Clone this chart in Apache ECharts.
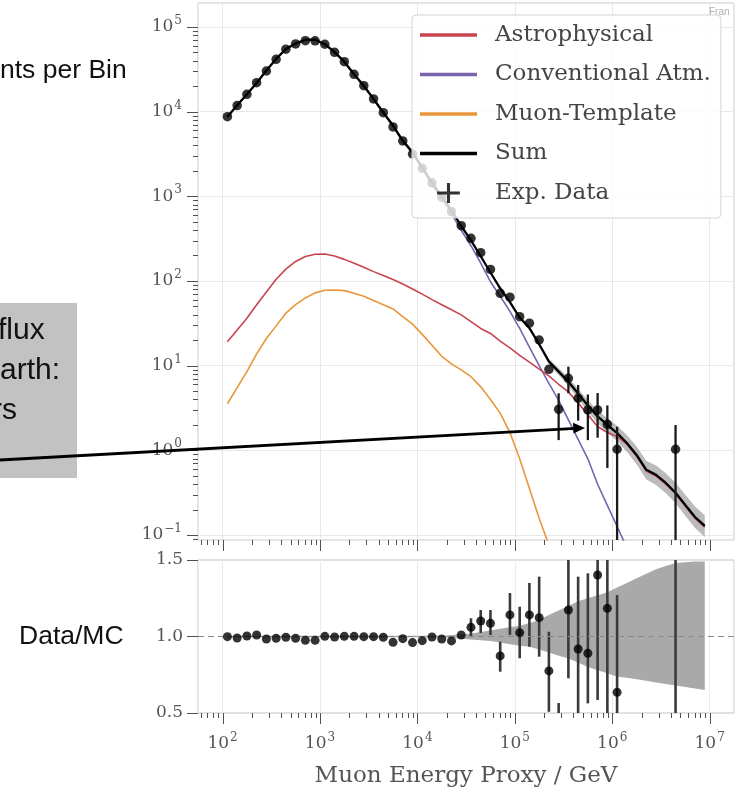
<!DOCTYPE html>
<html>
<head>
<meta charset="utf-8">
<script src="https://cdn.jsdelivr.net/npm/echarts@6/dist/echarts.min.js"></script>
<style>
html,body{margin:0;padding:0;background:#ffffff;}
#chart{width:740px;height:801px;}
</style>
</head>
<body>
<div id="chart"></div>
<script>
// ---------------- data ----------------
// bin centres, log10(E / GeV)
const binLog10E = [2.05,2.15,2.25,2.35,2.45,2.55,2.65,2.75,2.85,2.95,
  3.05,3.15,3.25,3.35,3.45,3.55,3.65,3.75,3.85,3.95,
  4.05,4.15,4.25,4.35,4.45,4.55,4.65,4.75,4.85,4.95,
  5.05,5.15,5.25,5.35,5.45,5.55,5.65,5.75,5.85,5.95,
  6.05,6.15,6.25,6.35,6.45,6.55,6.65,6.75,6.85,6.95];

const expData = [8730,11780,16030,21980,30200,41500,54580,62950,68870,68700,
  62520,50230,38900,27610,20230,14130,9730,6590,4510,3160,
  2140,1445,977,661,450,319,216,137,71.6,64.3,
  37.9,31.7,20.1,9.06,3.05,7.10,4.12,3.00,3.00,2.03,
  1.03,null,null,null,null,null,1.03,null,null,null];
const expErrLo = [null,null,null,null,null,null,null,null,null,null,
  null,null,null,null,null,null,null,null,null,null,
  null,null,null,null,null,null,null,null,null,null,
  null,null,null,null,1.32,4.72,2.24,1.32,1.41,0.62,
  0,null,null,null,null,null,0,null,null,null];
const expErrHi = [null,null,null,null,null,null,null,null,null,null,
  null,null,null,null,null,null,null,null,null,null,
  null,null,null,null,null,null,null,null,null,null,
  null,null,null,null,4.72,9.73,5.92,4.57,4.75,3.39,
  1.90,null,null,null,null,null,1.99,null,null,null];

const sumMC = [8730,11890,16000,21780,30690,41980,54830,63680,70630,70630,
  62520,50350,38900,27610,20230,14130,9770,6850,4560,3310,
  2200,1445,995,681,446,301,196,126,82.0,56.4,
  37.0,27.8,17.9,11.2,8.51,6.46,4.68,3.39,2.51,2.00,
  1.60,1.22,0.881,0.589,0.513,0.412,0.316,0.226,0.163,0.128];
const sumBandLo = [0.99,0.99,0.99,0.99,0.99,0.99,0.99,0.99,0.99,0.99,
  0.99,0.99,0.99,0.99,0.99,0.99,0.99,0.99,0.99,0.99,
  0.99,0.99,0.99,0.99,0.99,0.99,0.99,0.99,0.99,0.99,
  0.97,0.96,0.95,0.93,0.91,0.89,0.87,0.85,0.83,0.81,
  0.80,0.79,0.78,0.77,0.76,0.755,0.75,0.745,0.74,0.74];
const sumBandHi = [1.01,1.01,1.01,1.01,1.01,1.01,1.01,1.01,1.01,1.01,
  1.01,1.01,1.01,1.01,1.01,1.01,1.01,1.01,1.01,1.01,
  1.01,1.01,1.01,1.01,1.01,1.01,1.01,1.01,1.01,1.01,
  1.03,1.04,1.06,1.08,1.10,1.12,1.14,1.16,1.18,1.20,
  1.22,1.24,1.26,1.28,1.29,1.30,1.31,1.32,1.33,1.34];

const astrophysical = [19.1,26.3,36.3,52.5,74.1,105,138,170,195,207,
  208,197,180,162,145,129,116,104,92.3,80.4,
  70.0,60.3,52.5,45.7,39.8,33.1,27.5,24.0,19.5,16.2,
  13.2,11.0,9.12,7.59,6.03,4.90,3.63,2.63,1.91,1.62,
  1.46,1.18,0.855,0.571,0.498,0.400,0.307,0.219,0.158,0.124];

const conventionalAtm = [8710,11860,15960,21710,30600,41850,54650,63460,70370,70350,
  62230,50080,38640,27380,20020,13940,9600,6700,4430,3200,
  2110,1370,930,624,397,261,163,98.0,66.0,43.7,
  27.5,16.6,10.0,6.17,3.89,2.29,1.35,0.794,0.398,0.224,
  0.126,0.0708,null,null,null,null,null,null,null,null];

const muonTemplate = [3.55,5.50,8.51,13.8,20.9,29.5,41.7,52.5,63.1,72.4,
  77.6,78.2,76.9,71.6,66.1,58.9,52.5,46.8,38.0,30.9,
  23.4,17.4,12.9,10.5,8.91,7.41,5.62,3.98,2.75,1.62,
  0.794,0.355,0.158,0.0759,0.0316,0.0126,null,null,null,null,
  null,null,null,null,null,null,null,null,null,null];

const ratio = [0.999,0.990,1.003,1.010,0.984,0.988,0.995,0.988,0.975,0.975,
  1.001,0.997,1.001,1.001,0.999,0.999,0.995,0.962,0.986,0.960,
  0.973,0.997,0.984,0.971,1.010,1.060,1.101,1.086,0.873,1.141,
  1.025,1.141,1.123,0.775,0.420,1.173,0.918,0.890,1.402,1.184,
  0.635,null,null,null,null,null,3.30,null,null,null];
const ratioErrLo = [null,null,null,null,null,null,null,null,null,null,
  null,null,null,null,null,null,null,null,null,null,
  null,null,null,null,null,0.999,1.023,1.010,0.770,1.010,
  0.858,0.933,0.868,0.508,0.200,0.727,0.300,0.563,0.585,0.300,
  0.300,null,null,null,null,null,0,null,null,null];
const ratioErrHi = [null,null,null,null,null,null,null,null,null,null,
  null,null,null,null,null,null,null,null,null,null,
  null,null,null,null,null,1.119,1.173,1.173,0.966,1.284,
  1.195,1.350,1.391,1.031,0.565,1.600,1.391,1.413,1.600,1.600,
  1.271,null,null,null,null,null,6.0,null,null,null];
const ratioBandLo = [0.995,0.995,0.995,0.995,0.995,0.995,0.995,0.995,0.995,0.995,
  0.995,0.995,0.995,0.995,0.995,0.995,0.995,0.995,0.995,0.995,
  0.995,0.995,0.995,0.99,0.985,0.98,0.975,0.97,0.96,0.95,
  0.94,0.933,0.915,0.895,0.875,0.857,0.83,0.80,0.78,0.76,
  0.737,0.73,0.72,0.71,0.70,0.69,0.68,0.67,0.66,0.65];
const ratioBandHi = [1.005,1.005,1.005,1.005,1.005,1.005,1.005,1.005,1.005,1.005,
  1.005,1.005,1.005,1.005,1.005,1.005,1.005,1.005,1.005,1.005,
  1.005,1.005,1.005,1.01,1.015,1.02,1.03,1.04,1.05,1.06,
  1.07,1.086,1.11,1.14,1.17,1.20,1.23,1.25,1.27,1.29,
  1.32,1.35,1.38,1.41,1.44,1.46,1.48,1.485,1.49,1.49];

const xTickExps = [2,3,4,5,6,7];
const yTickExps = [-1,0,1,2,3,4,5];
const ratioTicks = [0.5,1.0,1.5];
const legendNames = ['Astrophysical','Conventional Atm.','Muon-Template','Sum','Exp. Data'];

// ---------------- styling ----------------
const SERIF = '"DejaVu Serif","Liberation Serif",serif';
const SANS = '"Liberation Sans",Arial,sans-serif';
const C_ASTRO = '#c9434f', C_CONV = '#7a63ad', C_MUON = '#e8963a';
const TXT = '#555555';

const X_MIN = Math.pow(10, 1.748), X_MAX = Math.pow(10, 7.25);
const Y_MIN = Math.pow(10, -1.059), Y_MAX = Math.pow(10, 5.283);

const energy = binLog10E.map(v => Math.pow(10, v));
const pairs = arr => energy.map((e, i) => [e, arr[i] == null ? '-' : arr[i]]);
const pointPairs = arr => energy.map((e, i) => [e, arr[i]]).filter(p => p[1] != null);
const errTriples = (lo, hi) => energy.map((e, i) => [e, lo[i], hi[i]]).filter(p => p[1] != null);

function supLabel(v, exps) {
  const lg = Math.log10(v);
  const e = Math.round(lg);
  if (Math.abs(lg - e) > 1e-6 || exps.indexOf(e) < 0) return '';
  return '{b|10}{s|' + (e < 0 ? '\u2212' + (-e) : e) + '}';
}
const supRich = {
  b: {fontFamily: SERIF, fontSize: 17, color: TXT},
  s: {fontFamily: SERIF, fontSize: 12, color: TXT, padding: [0, 0, 12, 1]}
};

function clampY(y, cs) { return Math.max(cs.y, Math.min(cs.y + cs.height, y)); }

function bandSeries(xi, yi, data, fill, z) {
  return {
    type: 'custom', xAxisIndex: xi, yAxisIndex: yi, silent: true, z: z,
    data: data, encode: {x: 0, y: [1, 2]},
    renderItem(params, api) {
      if (params.dataIndex !== 0) return null;
      const n = data.length, top = [], bot = [];
      for (let k = 0; k < n; k++) {
        const x = api.value(0, k);
        top.push(api.coord([x, api.value(2, k)]));
        bot.push(api.coord([x, api.value(1, k)]));
      }
      return {type: 'polygon', shape: {points: top.concat(bot.reverse())}, style: {fill: fill}};
    }
  };
}

function errSeries(xi, yi, data, stroke, width, z) {
  return {
    type: 'custom', xAxisIndex: xi, yAxisIndex: yi, silent: true, z: z,
    data: data, encode: {x: 0, y: [1, 2]},
    renderItem(params, api) {
      const cs = params.coordSys;
      const x = api.value(0), lo = api.value(1), hi = api.value(2);
      const pHi = api.coord([x, hi]);
      const yLo = lo > 0 ? api.coord([x, lo])[1] : cs.y + cs.height;
      return {type: 'line',
        shape: {x1: pHi[0], y1: clampY(yLo, cs), x2: pHi[0], y2: clampY(pHi[1], cs)},
        style: {stroke: stroke, lineWidth: width}};
    }
  };
}

function tickSeries(xi, yi, doX, doY, z) {
  return {
    type: 'custom', xAxisIndex: xi, yAxisIndex: yi, silent: true, z: z,
    data: [[100, 1]],
    renderItem(params, api) {
      const cs = params.coordSys, kids = [];
      const add = (x1, y1, x2, y2) => kids.push({type: 'line', shape: {x1, y1, x2, y2},
        style: {stroke: '#505050', lineWidth: 1}});
      if (doX) {
        const yb = cs.y + cs.height;
        for (let e = 1; e <= 7; e++) for (let k = 1; k <= 9; k++) {
          const v = k * Math.pow(10, e);
          if (v < X_MIN || v > X_MAX) continue;
          const px = Math.round(api.coord([v, 1])[0]) + 0.5;
          add(px, yb, px, yb + (k === 1 ? 11 : 5));
        }
      }
      if (doY) {
        const xl = cs.x;
        for (let e = -2; e <= 5; e++) for (let k = 1; k <= 9; k++) {
          const v = k * Math.pow(10, e);
          if (v < Y_MIN || v > Y_MAX) continue;
          const py = Math.round(api.coord([100, v])[1]) + 0.5;
          add(xl - (k === 1 ? 11 : 5), py, xl, py);
        }
      }
      return {type: 'group', children: kids};
    }
  };
}

const LINE_ICON = 'path://M0,0H57V3.5H0Z';
const PLUS_ICON = 'path://M0,9.3H25V12.7H0Z M10.8,0H14.2V22H10.8Z';

const chart = echarts.init(document.getElementById('chart'), null, {renderer: 'canvas', width: 740, height: 801});

const option = {
  animation: false,
  backgroundColor: '#ffffff',
  grid: [
    {left: 198, top: 3, width: 536, height: 537, show: true, borderColor: '#c4c4c4', borderWidth: 1, backgroundColor: 'transparent'},
    {left: 198, top: 560, width: 536, height: 153, show: true, borderColor: '#c4c4c4', borderWidth: 1, backgroundColor: 'transparent'}
  ],
  xAxis: [
    {type: 'log', gridIndex: 0, min: X_MIN, max: X_MAX,
      axisLine: {show: false}, axisTick: {show: false}, axisLabel: {show: false},
      splitLine: {show: true, lineStyle: {color: '#e8e8e8', width: 1}}},
    {type: 'log', gridIndex: 1, min: X_MIN, max: X_MAX,
      axisLine: {show: false}, axisTick: {show: false},
      axisLabel: {margin: 19, formatter: v => supLabel(v, xTickExps), rich: supRich},
      splitLine: {show: true, lineStyle: {color: '#ececec', width: 1}},
      name: 'Muon Energy Proxy / GeV', nameLocation: 'middle', nameGap: 52,
      nameTextStyle: {fontFamily: SERIF, fontSize: 23, color: TXT}}
  ],
  yAxis: [
    {type: 'log', gridIndex: 0, min: Y_MIN, max: Y_MAX,
      axisLine: {show: false}, axisTick: {show: false},
      axisLabel: {margin: 16, formatter: v => supLabel(v, yTickExps), rich: supRich},
      splitLine: {show: true, lineStyle: {color: '#e8e8e8', width: 1}}},
    {type: 'value', gridIndex: 1, min: 0.5, max: 1.5, interval: 0.5,
      axisLine: {show: false},
      axisTick: {show: true, length: 11, lineStyle: {color: '#505050', width: 1}},
      axisLabel: {margin: 15, fontFamily: SERIF, fontSize: 17, color: TXT,
        formatter: v => ratioTicks.some(t => Math.abs(t - v) < 1e-9) ? v.toFixed(1) : ''},
      splitLine: {show: false}}
  ],
  legend: {
    orient: 'vertical', left: 412, top: 15,
    itemWidth: 57, itemHeight: 20, itemGap: 15.5,
    padding: [8, 10, 13, 8],
    backgroundColor: 'rgba(255,255,255,0.8)', borderColor: '#d4d4d4', borderWidth: 1, borderRadius: 4,
    selectedMode: false, z: 20,
    textStyle: {fontFamily: SERIF, fontSize: 23, lineHeight: 24, color: '#444', padding: [0, 0, 0, 13]},
    data: [
      {name: legendNames[0], icon: LINE_ICON},
      {name: legendNames[1], icon: LINE_ICON},
      {name: legendNames[2], icon: LINE_ICON},
      {name: legendNames[3], icon: LINE_ICON},
      {name: legendNames[4], icon: PLUS_ICON}
    ]
  },
  series: [
    bandSeries(0, 0, energy.map((e, i) => [e, sumMC[i] * sumBandLo[i], sumMC[i] * sumBandHi[i]]), 'rgba(150,150,150,0.65)', 1),
    {name: legendNames[1], type: 'line', xAxisIndex: 0, yAxisIndex: 0, data: pairs(conventionalAtm),
      color: C_CONV, symbol: 'none', lineStyle: {width: 1.6, color: C_CONV}, z: 2, silent: true},
    {name: legendNames[0], type: 'line', xAxisIndex: 0, yAxisIndex: 0, data: pairs(astrophysical),
      color: C_ASTRO, symbol: 'none', lineStyle: {width: 1.6, color: C_ASTRO}, z: 2, silent: true},
    {name: legendNames[2], type: 'line', xAxisIndex: 0, yAxisIndex: 0, data: pairs(muonTemplate),
      color: C_MUON, symbol: 'none', lineStyle: {width: 1.6, color: C_MUON}, z: 2, silent: true},
    {name: legendNames[3], type: 'line', xAxisIndex: 0, yAxisIndex: 0, data: pairs(sumMC),
      color: '#000000', symbol: 'none', lineStyle: {width: 2.3, color: '#000000'}, z: 3, silent: true},
    errSeries(0, 0, errTriples(expErrLo, expErrHi), '#1a1a1a', 2.3, 4),
    {name: legendNames[4], type: 'scatter', xAxisIndex: 0, yAxisIndex: 0, data: pointPairs(expData),
      color: '#000000', symbol: 'circle', symbolSize: 9.5, itemStyle: {color: '#000000'}, z: 5, silent: true},
    tickSeries(0, 0, true, true, 6),

    bandSeries(1, 1, energy.map((e, i) => [e, ratioBandLo[i], ratioBandHi[i]]), '#a9a9a9', 1),
    errSeries(1, 1, errTriples(ratioErrLo, ratioErrHi), '#3a3a3a', 2.6, 3),
    {name: 'Data/MC ratio', type: 'scatter', xAxisIndex: 1, yAxisIndex: 1, data: pointPairs(ratio),
      symbol: 'circle', symbolSize: 9, itemStyle: {color: '#000000'}, z: 5, silent: true,
      markLine: {silent: true, symbol: 'none', label: {show: false},
        lineStyle: {type: [6, 4], color: '#8a8a8a', width: 1.2}, data: [{yAxis: 1}]}},
    tickSeries(1, 1, true, false, 6)
  ],
  graphic: [
    {type: 'rect', z: 1, shape: {x: 0, y: 303, width: 77, height: 175}, style: {fill: '#c2c2c2'}},
    {type: 'text', z: 2, x: -2, y: 331, style: {text: 'flux', font: '30px ' + SANS, fill: '#111', verticalAlign: 'middle'}},
    {type: 'text', z: 2, x: 0, y: 371, style: {text: 'arth:', font: '30px ' + SANS, fill: '#111', verticalAlign: 'middle'}},
    {type: 'text', z: 2, x: -8, y: 411, style: {text: 'rs', font: '30px ' + SANS, fill: '#111', verticalAlign: 'middle'}},
    {type: 'text', z: 2, x: 0, y: 71, style: {text: 'nts per Bin', font: '26.5px ' + SANS, fill: '#111', verticalAlign: 'middle'}},
    {type: 'text', z: 2, x: 19, y: 637, style: {text: 'Data/MC', font: '26.5px ' + SANS, fill: '#111', verticalAlign: 'middle'}},
    {type: 'text', z: 2, x: 709, y: 12, style: {text: 'Fran', font: '10px ' + SANS, fill: '#b0b0b0', verticalAlign: 'middle'}},
    {type: 'line', z: 100, shape: {x1: 0, y1: 460, x2: 576, y2: 428.4}, style: {stroke: '#000', lineWidth: 2.8}},
    {type: 'polygon', z: 100, shape: {points: [[585, 427.9], [573, 422.8], [573.6, 433.4]]}, style: {fill: '#000'}}
  ]
};
chart.setOption(option);
</script>
</body>
</html>
